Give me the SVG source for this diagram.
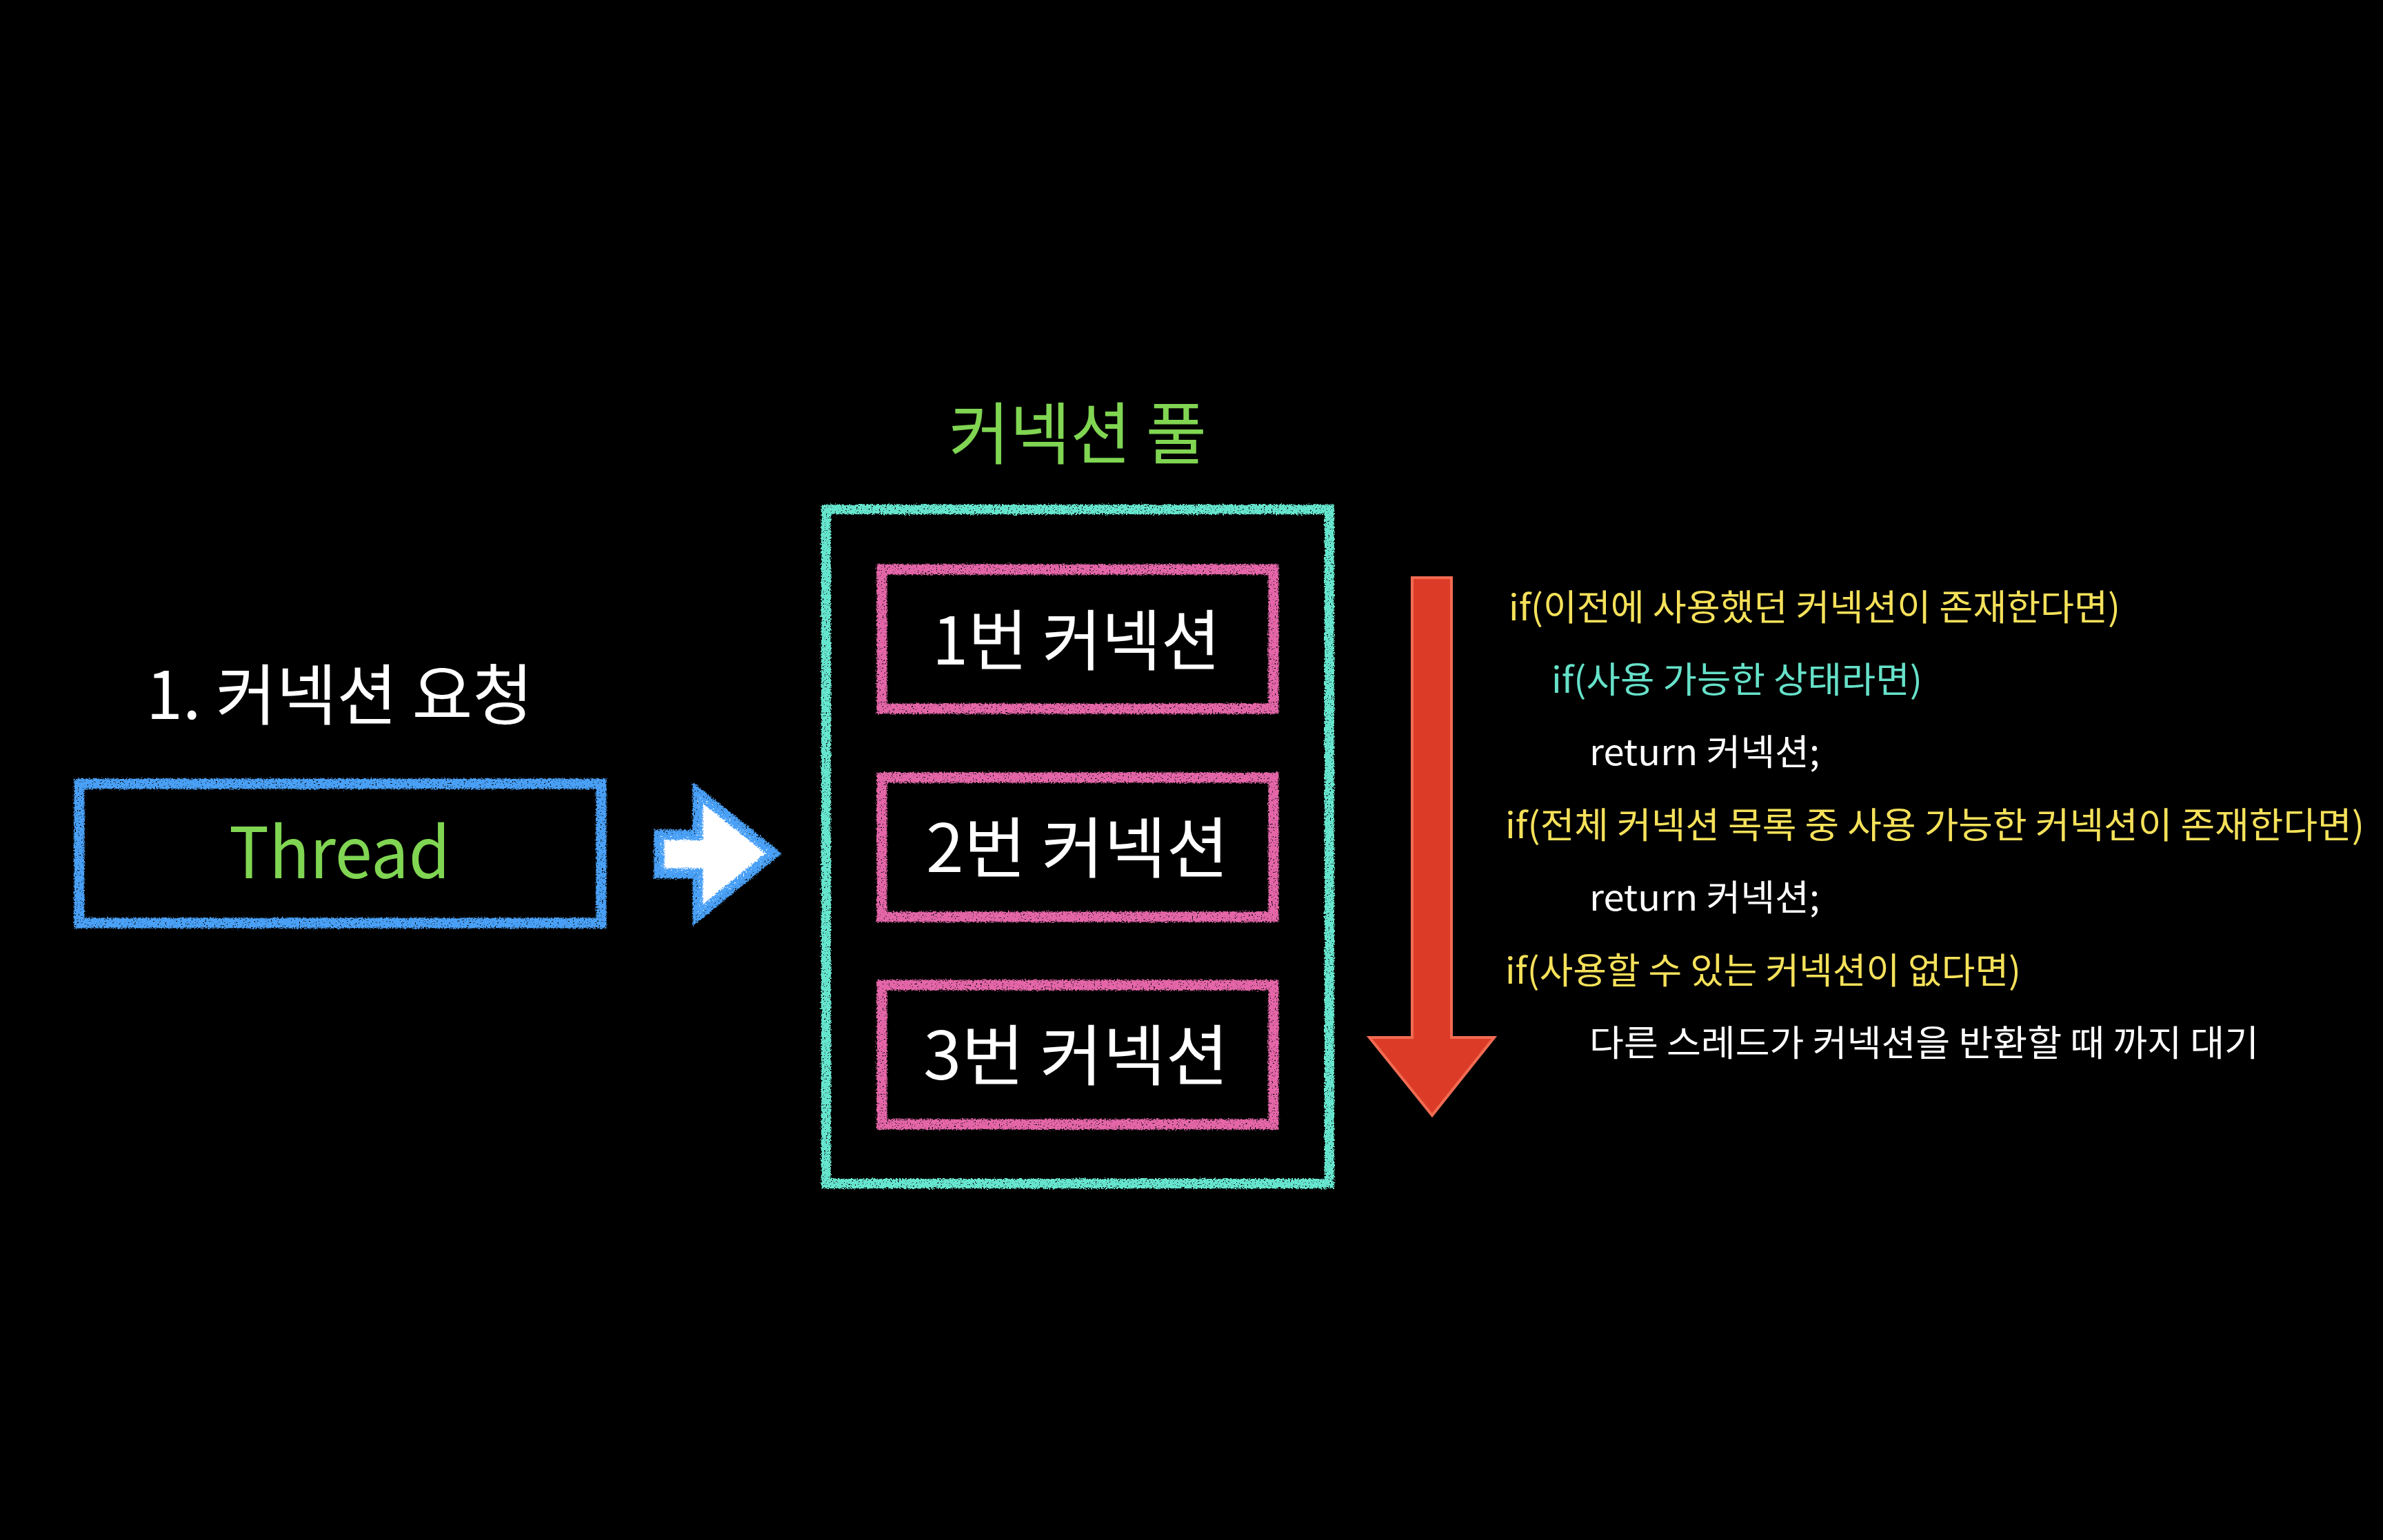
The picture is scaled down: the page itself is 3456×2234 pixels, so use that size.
<svg xmlns="http://www.w3.org/2000/svg" width="3456" height="2234" viewBox="0 0 3456 2234">
<defs>
<style>
.ko{font-family:"Noto Sans CJK KR","Noto Sans",sans-serif;}
.big{font-size:96px;fill:#ffffff;}
.code{font-size:52px;}
.yel{fill:#f5e15a;}
.cyan{fill:#66e1c9;}
.wht{fill:#ffffff;}
.grn{fill:#80d552;}
.chalk{fill:none;filter:url(#chalk);}
</style>
<filter id="chalk" filterUnits="userSpaceOnUse" x="0" y="0" width="3456" height="2234">
<feTurbulence type="fractalNoise" baseFrequency="0.45" numOctaves="2" seed="4" result="n"/>
<feDisplacementMap in="SourceGraphic" in2="n" scale="7" xChannelSelector="R" yChannelSelector="G" result="d"/>
<feColorMatrix in="n" type="matrix" values="0 0 0 0 0  0 0 0 0 0  0 0 0 0 0  10 0 0 0 -2.5" result="m"/>
<feComposite in="d" in2="m" operator="in"/>
</filter>
<filter id="rough" filterUnits="userSpaceOnUse" x="0" y="0" width="3456" height="2234">
<feTurbulence type="fractalNoise" baseFrequency="0.45" numOctaves="2" seed="9" result="n"/>
<feDisplacementMap in="SourceGraphic" in2="n" scale="6" xChannelSelector="R" yChannelSelector="G"/>
</filter>
</defs>
<rect x="0" y="0" width="3456" height="2234" fill="#000000"/>

<g id="request-label">
<text class="ko big" x="212" y="1043" textLength="561" lengthAdjust="spacingAndGlyphs">1. 커넥션 요청</text>
</g>

<g id="thread">
<rect class="chalk" x="115" y="1137" width="757" height="202" stroke="#4aa0f6" stroke-width="15"/>
<text class="ko grn" x="332" y="1274" font-size="102" textLength="321" lengthAdjust="spacingAndGlyphs">Thread</text>
</g>

<g id="connectors">
<polygon points="956,1211 1012,1211 1012,1150 1122,1238 1012,1328 1012,1267 956,1267" fill="#ffffff" filter="url(#rough)"/>
<polygon points="956,1211 1012,1211 1012,1150 1122,1238 1012,1328 1012,1267 956,1267" class="chalk" stroke="#4aa0f6" stroke-width="15" stroke-linejoin="miter"/>
</g>

<g id="pool">
<text class="ko grn" x="1376" y="665" font-size="98" textLength="374" lengthAdjust="spacingAndGlyphs">커넥션 풀</text>
<rect class="chalk" x="1198" y="739" width="730" height="978" stroke="#66e5ce" stroke-width="14"/>
</g>

<g id="conn1">
<rect class="chalk" x="1279" y="826" width="568" height="202" stroke="#e466a8" stroke-width="15"/>
<text class="ko big" x="1352" y="964" textLength="418" lengthAdjust="spacingAndGlyphs">1번 커넥션</text>
</g>
<g id="conn2">
<rect class="chalk" x="1279" y="1128" width="568" height="202" stroke="#e466a8" stroke-width="15"/>
<text class="ko big" x="1343" y="1265" textLength="439" lengthAdjust="spacingAndGlyphs">2번 커넥션</text>
</g>
<g id="conn3">
<rect class="chalk" x="1279" y="1429" width="568" height="202" stroke="#e466a8" stroke-width="15"/>
<text class="ko big" x="1339" y="1566" textLength="443" lengthAdjust="spacingAndGlyphs">3번 커넥션</text>
</g>

<g id="flow-arrow">
<polygon points="2048,838 2105,838 2105,1505 2167,1505 2077,1618 1986,1505 2048,1505" fill="#dc3c27" stroke="#f26b53" stroke-width="4"/>
</g>

<g id="logic">
<text class="ko code yel" x="2188" y="900" textLength="887" lengthAdjust="spacingAndGlyphs">if(이전에 사용했던 커넥션이 존재한다면)</text>
<text class="ko code cyan" x="2250" y="1005" textLength="538" lengthAdjust="spacingAndGlyphs">if(사용 가능한 상태라면)</text>
<text class="ko code wht" x="2305" y="1110" textLength="334" lengthAdjust="spacingAndGlyphs">return 커넥션;</text>
<text class="ko code yel" x="2183" y="1216" textLength="1246" lengthAdjust="spacingAndGlyphs">if(전체 커넥션 목록 중 사용 가능한 커넥션이 존재한다면)</text>
<text class="ko code wht" x="2305" y="1321" textLength="334" lengthAdjust="spacingAndGlyphs">return 커넥션;</text>
<text class="ko code yel" x="2183" y="1427" textLength="748" lengthAdjust="spacingAndGlyphs">if(사용할 수 있는 커넥션이 없다면)</text>
<text class="ko code wht" x="2305" y="1532" textLength="971" lengthAdjust="spacingAndGlyphs">다른 스레드가 커넥션을 반환할 때 까지 대기</text>
</g>
</svg>
